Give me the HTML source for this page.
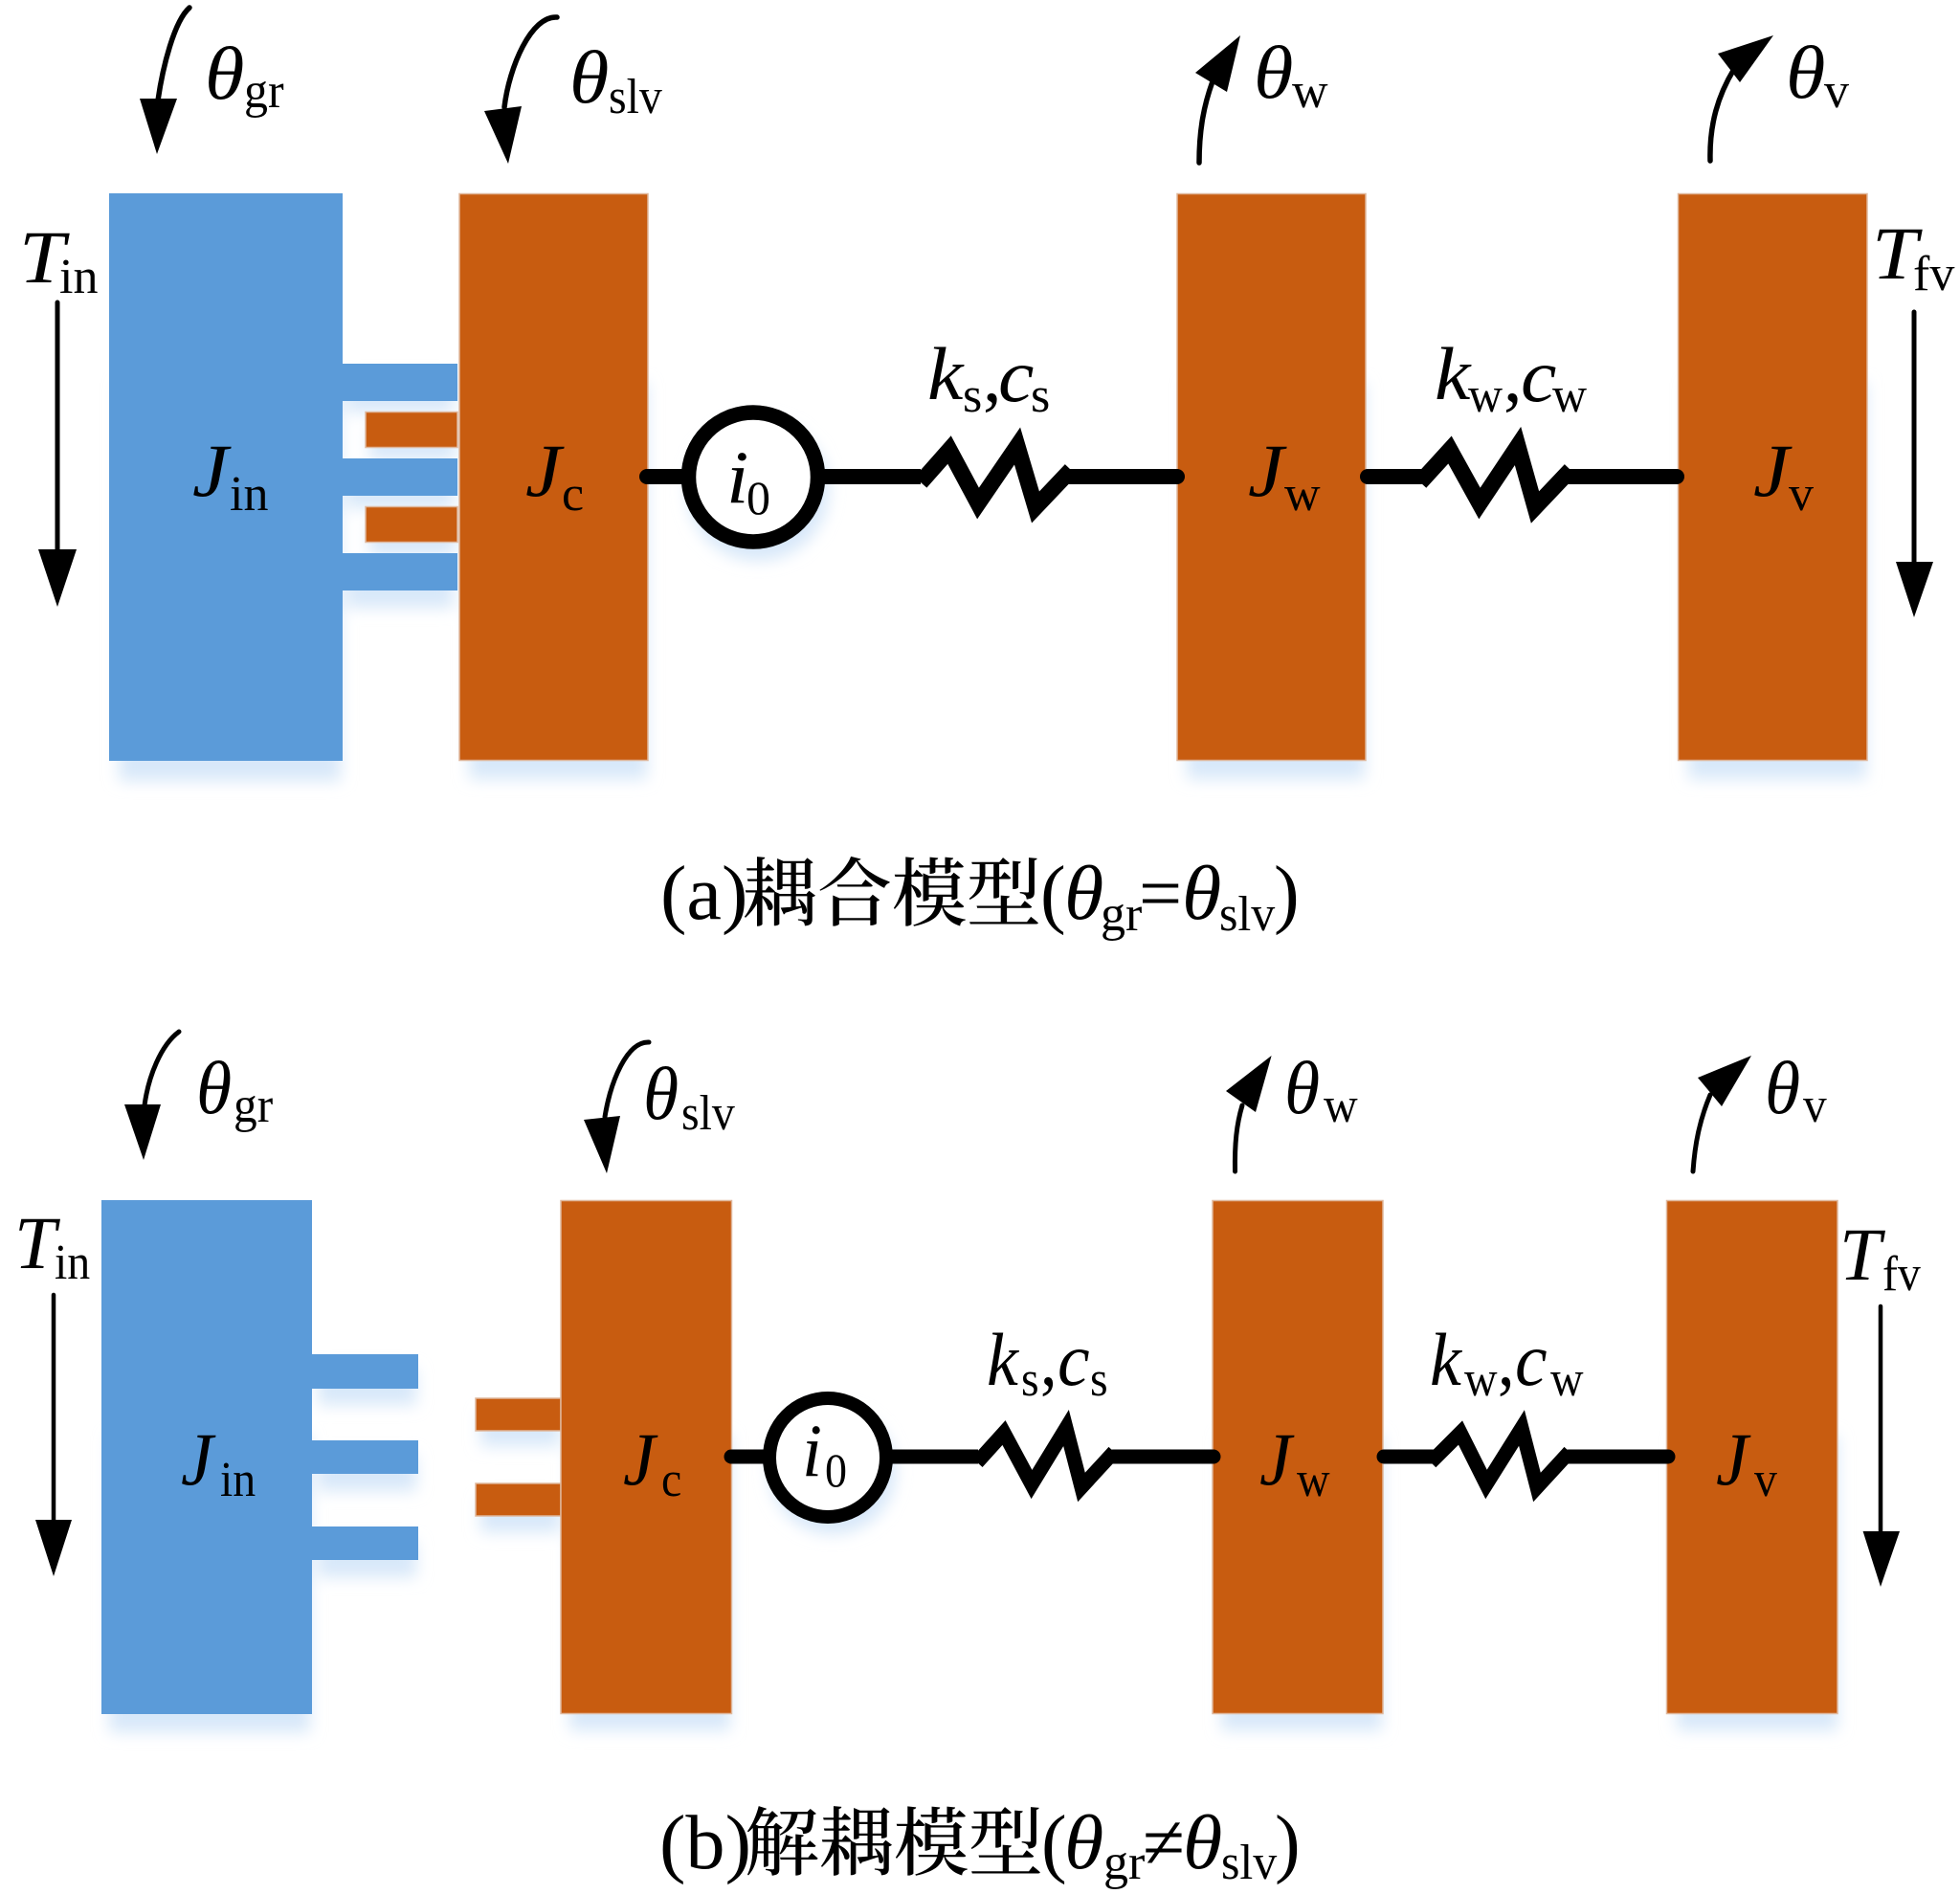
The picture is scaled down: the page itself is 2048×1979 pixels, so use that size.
<!DOCTYPE html>
<html lang="zh">
<head>
<meta charset="utf-8">
<title>耦合模型与解耦模型</title>
<style>
html,body{margin:0;padding:0;background:#fff}
svg{display:block}
text{font-family:"Liberation Serif","Noto Serif CJK SC",serif;fill:#000}
.m{font-size:78px;font-style:italic}
.s{font-size:52px}
.z{font-size:50px}
.c{font-size:80px}
.ci{font-size:80px;font-style:italic}
.cj{font-size:78px;font-family:"Noto Serif CJK SC","Liberation Serif",serif;font-weight:500}
.b{fill:#5b9bd9}
.o{fill:#c85c10;stroke:#dfb79c;stroke-width:1.5}
.sh{fill:#d8e8f9}
.w{fill:none;stroke:#000;stroke-linecap:round}
.sp{fill:none;stroke:#000;stroke-width:17;stroke-linejoin:miter;stroke-miterlimit:10}
.sp2{fill:none;stroke:#000;stroke-width:15;stroke-linejoin:miter;stroke-miterlimit:10}
</style>
</head>
<body>
<svg width="2048" height="1979" viewBox="0 0 2048 1979" xmlns="http://www.w3.org/2000/svg">
<defs><filter id="bl" x="-30%" y="-30%" width="160%" height="160%"><feGaussianBlur stdDeviation="8"/></filter></defs>
<rect width="2048" height="1979" fill="#fff"/>

<!-- soft shadows -->
<g filter="url(#bl)">
  <rect class="sh" x="124" y="400" width="232" height="416"/>
  <rect class="sh" x="490" y="400" width="186" height="414"/>
  <rect class="sh" x="1240" y="400" width="186" height="414"/>
  <rect class="sh" x="1764" y="400" width="186" height="414"/>
  <rect class="sh" x="362" y="395" width="112" height="36"/>
  <rect class="sh" x="386" y="445" width="90" height="36"/>
  <rect class="sh" x="362" y="495" width="112" height="36"/>
  <rect class="sh" x="386" y="545" width="90" height="36"/>
  <rect class="sh" x="362" y="595" width="112" height="40"/>
  <circle class="sh" cx="792" cy="512" r="74"/>
  <rect class="sh" x="114" y="1500" width="210" height="310"/>
  <rect class="sh" x="595" y="1500" width="168" height="308"/>
  <rect class="sh" x="1276" y="1500" width="168" height="308"/>
  <rect class="sh" x="1752" y="1500" width="168" height="308"/>
  <rect class="sh" x="332" y="1430" width="103" height="38"/>
  <rect class="sh" x="332" y="1520" width="103" height="38"/>
  <rect class="sh" x="332" y="1610" width="103" height="38"/>
  <rect class="sh" x="502" y="1475" width="83" height="36"/>
  <rect class="sh" x="502" y="1565" width="83" height="36"/>
  <circle class="sh" cx="870" cy="1537" r="66"/>
</g>

<!-- ========== (a) ========== -->
<rect class="b" x="114" y="202" width="244" height="593"/>
<rect class="b" x="358" y="380" width="120" height="39"/>
<rect class="b" x="358" y="479" width="120" height="39"/>
<rect class="b" x="358" y="578" width="120" height="39"/>
<rect class="o" x="382" y="430.500" width="96" height="37"/>
<rect class="o" x="382" y="529.500" width="96" height="37"/>
<rect class="o" x="480" y="202.500" width="197" height="592"/>
<rect class="o" x="1230" y="202.500" width="197" height="592"/>
<rect class="o" x="1753.500" y="202.500" width="197.500" height="592"/>

<!-- connectors a -->
<path class="w" stroke-width="16" d="M676,498H715"/>
<path class="w" stroke-width="16" d="M860,498H962" style="stroke-linecap:butt"/>
<polyline class="sp" points="962,504 992,470 1022,526 1063,466 1082,530 1119,491"/>
<path class="w" stroke-width="16" d="M1118,498H1230"/>
<circle cx="787" cy="498.500" r="67.500" fill="#fff" stroke="#000" stroke-width="15.500"/>
<path class="w" stroke-width="16" d="M1429,498H1484"/>
<polyline class="sp" points="1484,504 1515,470 1546,526 1586,466 1604,530 1641,491"/>
<path class="w" stroke-width="16" d="M1640,498H1752"/>

<!-- arrows a -->
<path class="w" stroke-width="5.500" d="M198,8C182,22 170,70 165,105"/>
<polygon points="146,103 185,103 164,161"/>
<path class="w" stroke-width="5.500" d="M582,18C555,16 532,70 527,112"/>
<polygon points="506,116 545,111 531,171"/>
<path class="w" stroke-width="5.500" d="M1253,170C1253,135 1258,110 1267,85"/>
<polygon points="1296,37 1249,76 1282,96"/>
<path class="w" stroke-width="5.500" d="M1787,168C1786,130 1795,100 1812,72"/>
<polygon points="1853,37 1795,56 1818,86"/>
<path class="w" stroke-width="5" d="M60,316V576"/>
<polygon points="40,574 80,574 60,634"/>
<path class="w" stroke-width="5" d="M2000,326V588"/>
<polygon points="1981,587 2020,587 2000,645"/>

<!-- labels a -->
<text class="m" transform="translate(214,103) scale(1.08,1)">θ</text><text class="s" transform="translate(255,112) scale(.96,1)">gr</text>
<text class="m" transform="translate(595,107) scale(1.08,1)">θ</text><text class="s" transform="translate(636,118) scale(.92,1)">slv</text>
<text class="m" transform="translate(1310,102) scale(1.08,1)">θ</text><text class="s" transform="translate(1350,112)">w</text>
<text class="m" transform="translate(1866,102) scale(1.08,1)">θ</text><text class="s" transform="translate(1906,112)">v</text>
<text class="m" transform="translate(20,295) scale(1.1,1)">T</text><text class="s" transform="translate(62,306)">in</text>
<text class="m" transform="translate(1956,291) scale(1.1,1)">T</text><text class="s" transform="translate(1999,303)">fv</text>
<text class="m" transform="translate(201,518) scale(1.08,1)">J</text><text class="s" transform="translate(240,533)">in</text>
<text class="m" transform="translate(549,518) scale(1.08,1)">J</text><text class="s" transform="translate(587,533)">c</text>
<text class="m" transform="translate(1304,518) scale(1.08,1)">J</text><text class="s" transform="translate(1342,533)">w</text>
<text class="m" transform="translate(1832,518) scale(1.08,1)">J</text><text class="s" transform="translate(1869,533)">v</text>
<text class="m" transform="translate(759,525) scale(1.08,1)">i</text><text class="z" transform="translate(780,537)">0</text>
<text class="m" transform="translate(969,417) scale(1.08,1)">k</text><text class="s" transform="translate(1006,430)">s</text><text class="m" style="font-style:normal" transform="translate(1027,419)">,</text><text class="m" transform="translate(1043,419) scale(1.08,1)">c</text><text class="s" transform="translate(1077,430)">s</text>
<text class="m" transform="translate(1499,417) scale(1.08,1)">k</text><text class="s" transform="translate(1534,430) scale(.96,1)">w</text><text class="m" style="font-style:normal" transform="translate(1571,419)">,</text><text class="m" transform="translate(1589,419) scale(1.08,1)">c</text><text class="s" transform="translate(1622,430) scale(.96,1)">w</text>

<!-- caption a -->
<text class="c" transform="translate(690,960) scale(1.03,1)">(a)</text>
<text class="cj" x="776" y="961">耦合模型</text>
<text class="c" x="1087" y="960">(</text>
<text class="ci" transform="translate(1112,960) scale(1.05,1)">θ</text><text class="s" x="1150" y="972">gr</text>
<text class="c" x="1190" y="960">=</text>
<text class="ci" transform="translate(1235,960) scale(1.05,1)">θ</text><text class="s" transform="translate(1274,972) scale(.96,1)">slv</text>
<text class="c" x="1331" y="960">)</text>

<!-- ========== (b) ========== -->
<rect class="b" x="106" y="1254" width="220" height="537"/>
<rect class="b" x="326" y="1415" width="111" height="36"/>
<rect class="b" x="326" y="1505" width="111" height="35"/>
<rect class="b" x="326" y="1595" width="111" height="35"/>
<rect class="o" x="497" y="1461" width="89" height="34"/>
<rect class="o" x="497" y="1550" width="89" height="34"/>
<rect class="o" x="586" y="1254.500" width="178.500" height="536"/>
<rect class="o" x="1267" y="1254.500" width="178" height="536"/>
<rect class="o" x="1741.500" y="1254.500" width="178.500" height="536"/>

<!-- connectors b -->
<path class="w" stroke-width="15" d="M764,1522H805"/>
<path class="w" stroke-width="15" d="M925,1522H1022" style="stroke-linecap:butt"/>
<polyline class="sp2" points="1021,1528 1049,1497 1078,1551 1114,1492 1130,1554 1164,1517"/>
<path class="w" stroke-width="15" d="M1163,1522H1268"/>
<ellipse cx="865" cy="1523" rx="61" ry="62" fill="#fff" stroke="#000" stroke-width="14"/>
<path class="w" stroke-width="15" d="M1446,1522H1497"/>
<polyline class="sp2" points="1495,1528 1526,1497 1553,1551 1590,1492 1606,1554 1640,1517"/>
<path class="w" stroke-width="15" d="M1639,1522H1743"/>

<!-- arrows b -->
<path class="w" stroke-width="5" d="M187,1078C168,1092 155,1125 151,1155"/>
<polygon points="130,1154 168,1154 150,1212"/>
<path class="w" stroke-width="5" d="M678,1089C655,1088 638,1130 632,1167"/>
<polygon points="610,1170 648,1166 634,1226"/>
<path class="w" stroke-width="5" d="M1290.500,1224C1290,1195 1292,1175 1298,1155"/>
<polygon points="1328.600,1103 1281,1140 1312,1162"/>
<path class="w" stroke-width="5" d="M1769,1224C1771,1195 1776,1170 1787,1144"/>
<polygon points="1830,1103 1774,1126 1799,1156"/>
<path class="w" stroke-width="4.500" d="M56,1353V1590"/>
<polygon points="37,1588 75,1588 56,1647"/>
<path class="w" stroke-width="4.500" d="M1965,1365V1601"/>
<polygon points="1946.600,1600 1985,1600 1965,1658"/>

<!-- labels b -->
<text class="m" transform="translate(205,1163) scale(.97,1)">θ</text><text class="s" transform="translate(244,1172) scale(.95,1)">gr</text>
<text class="m" transform="translate(672,1169) scale(.97,1)">θ</text><text class="s" transform="translate(712,1180) scale(.92,1)">slv</text>
<text class="m" transform="translate(1342,1163) scale(.97,1)">θ</text><text class="s" transform="translate(1383,1172) scale(.95,1)">w</text>
<text class="m" transform="translate(1844,1163) scale(.97,1)">θ</text><text class="s" transform="translate(1884,1172) scale(.95,1)">v</text>
<text class="m" transform="translate(15,1325)">T</text><text class="s" transform="translate(57,1336) scale(.92,1)">in</text>
<text class="m" transform="translate(1922,1337)">T</text><text class="s" transform="translate(1967,1348) scale(.92,1)">fv</text>
<text class="m" transform="translate(189,1551) scale(.97,1)">J</text><text class="s" transform="translate(230,1563) scale(.92,1)">in</text>
<text class="m" transform="translate(651,1551) scale(.97,1)">J</text><text class="s" transform="translate(691,1563) scale(.92,1)">c</text>
<text class="m" transform="translate(1316,1551) scale(.97,1)">J</text><text class="s" transform="translate(1355,1563) scale(.92,1)">w</text>
<text class="m" transform="translate(1793,1551) scale(.97,1)">J</text><text class="s" transform="translate(1833,1563) scale(.92,1)">v</text>
<text class="m" transform="translate(838,1542) scale(.97,1)">i</text><text class="z" transform="translate(862,1553) scale(.92,1)">0</text>
<text class="m" transform="translate(1031,1447) scale(.95,1)">k</text><text class="s" transform="translate(1067,1458) scale(.92,1)">s</text><text class="m" style="font-style:normal" transform="translate(1087,1447) scale(.9,1)">,</text><text class="m" transform="translate(1105,1447) scale(.97,1)">c</text><text class="s" transform="translate(1139,1458) scale(.92,1)">s</text>
<text class="m" transform="translate(1494,1447) scale(.95,1)">k</text><text class="s" transform="translate(1530,1458) scale(.92,1)">w</text><text class="m" style="font-style:normal" transform="translate(1565,1447) scale(.9,1)">,</text><text class="m" transform="translate(1583,1447) scale(.97,1)">c</text><text class="s" transform="translate(1620,1458) scale(.92,1)">w</text>

<!-- caption b -->
<text class="c" transform="translate(689,1952) scale(1.03,1)">(b)</text>
<text class="cj" x="778" y="1953">解耦模型</text>
<text class="c" x="1088" y="1952">(</text>
<text class="ci" transform="translate(1112,1952) scale(1.05,1)">θ</text><text class="s" x="1153" y="1963">gr</text>
<text class="c" x="1194" y="1952">≠</text>
<text class="ci" transform="translate(1236,1952) scale(1.05,1)">θ</text><text class="s" transform="translate(1276,1963) scale(.96,1)">slv</text>
<text class="c" x="1332" y="1952">)</text>
</svg>
</body>
</html>
